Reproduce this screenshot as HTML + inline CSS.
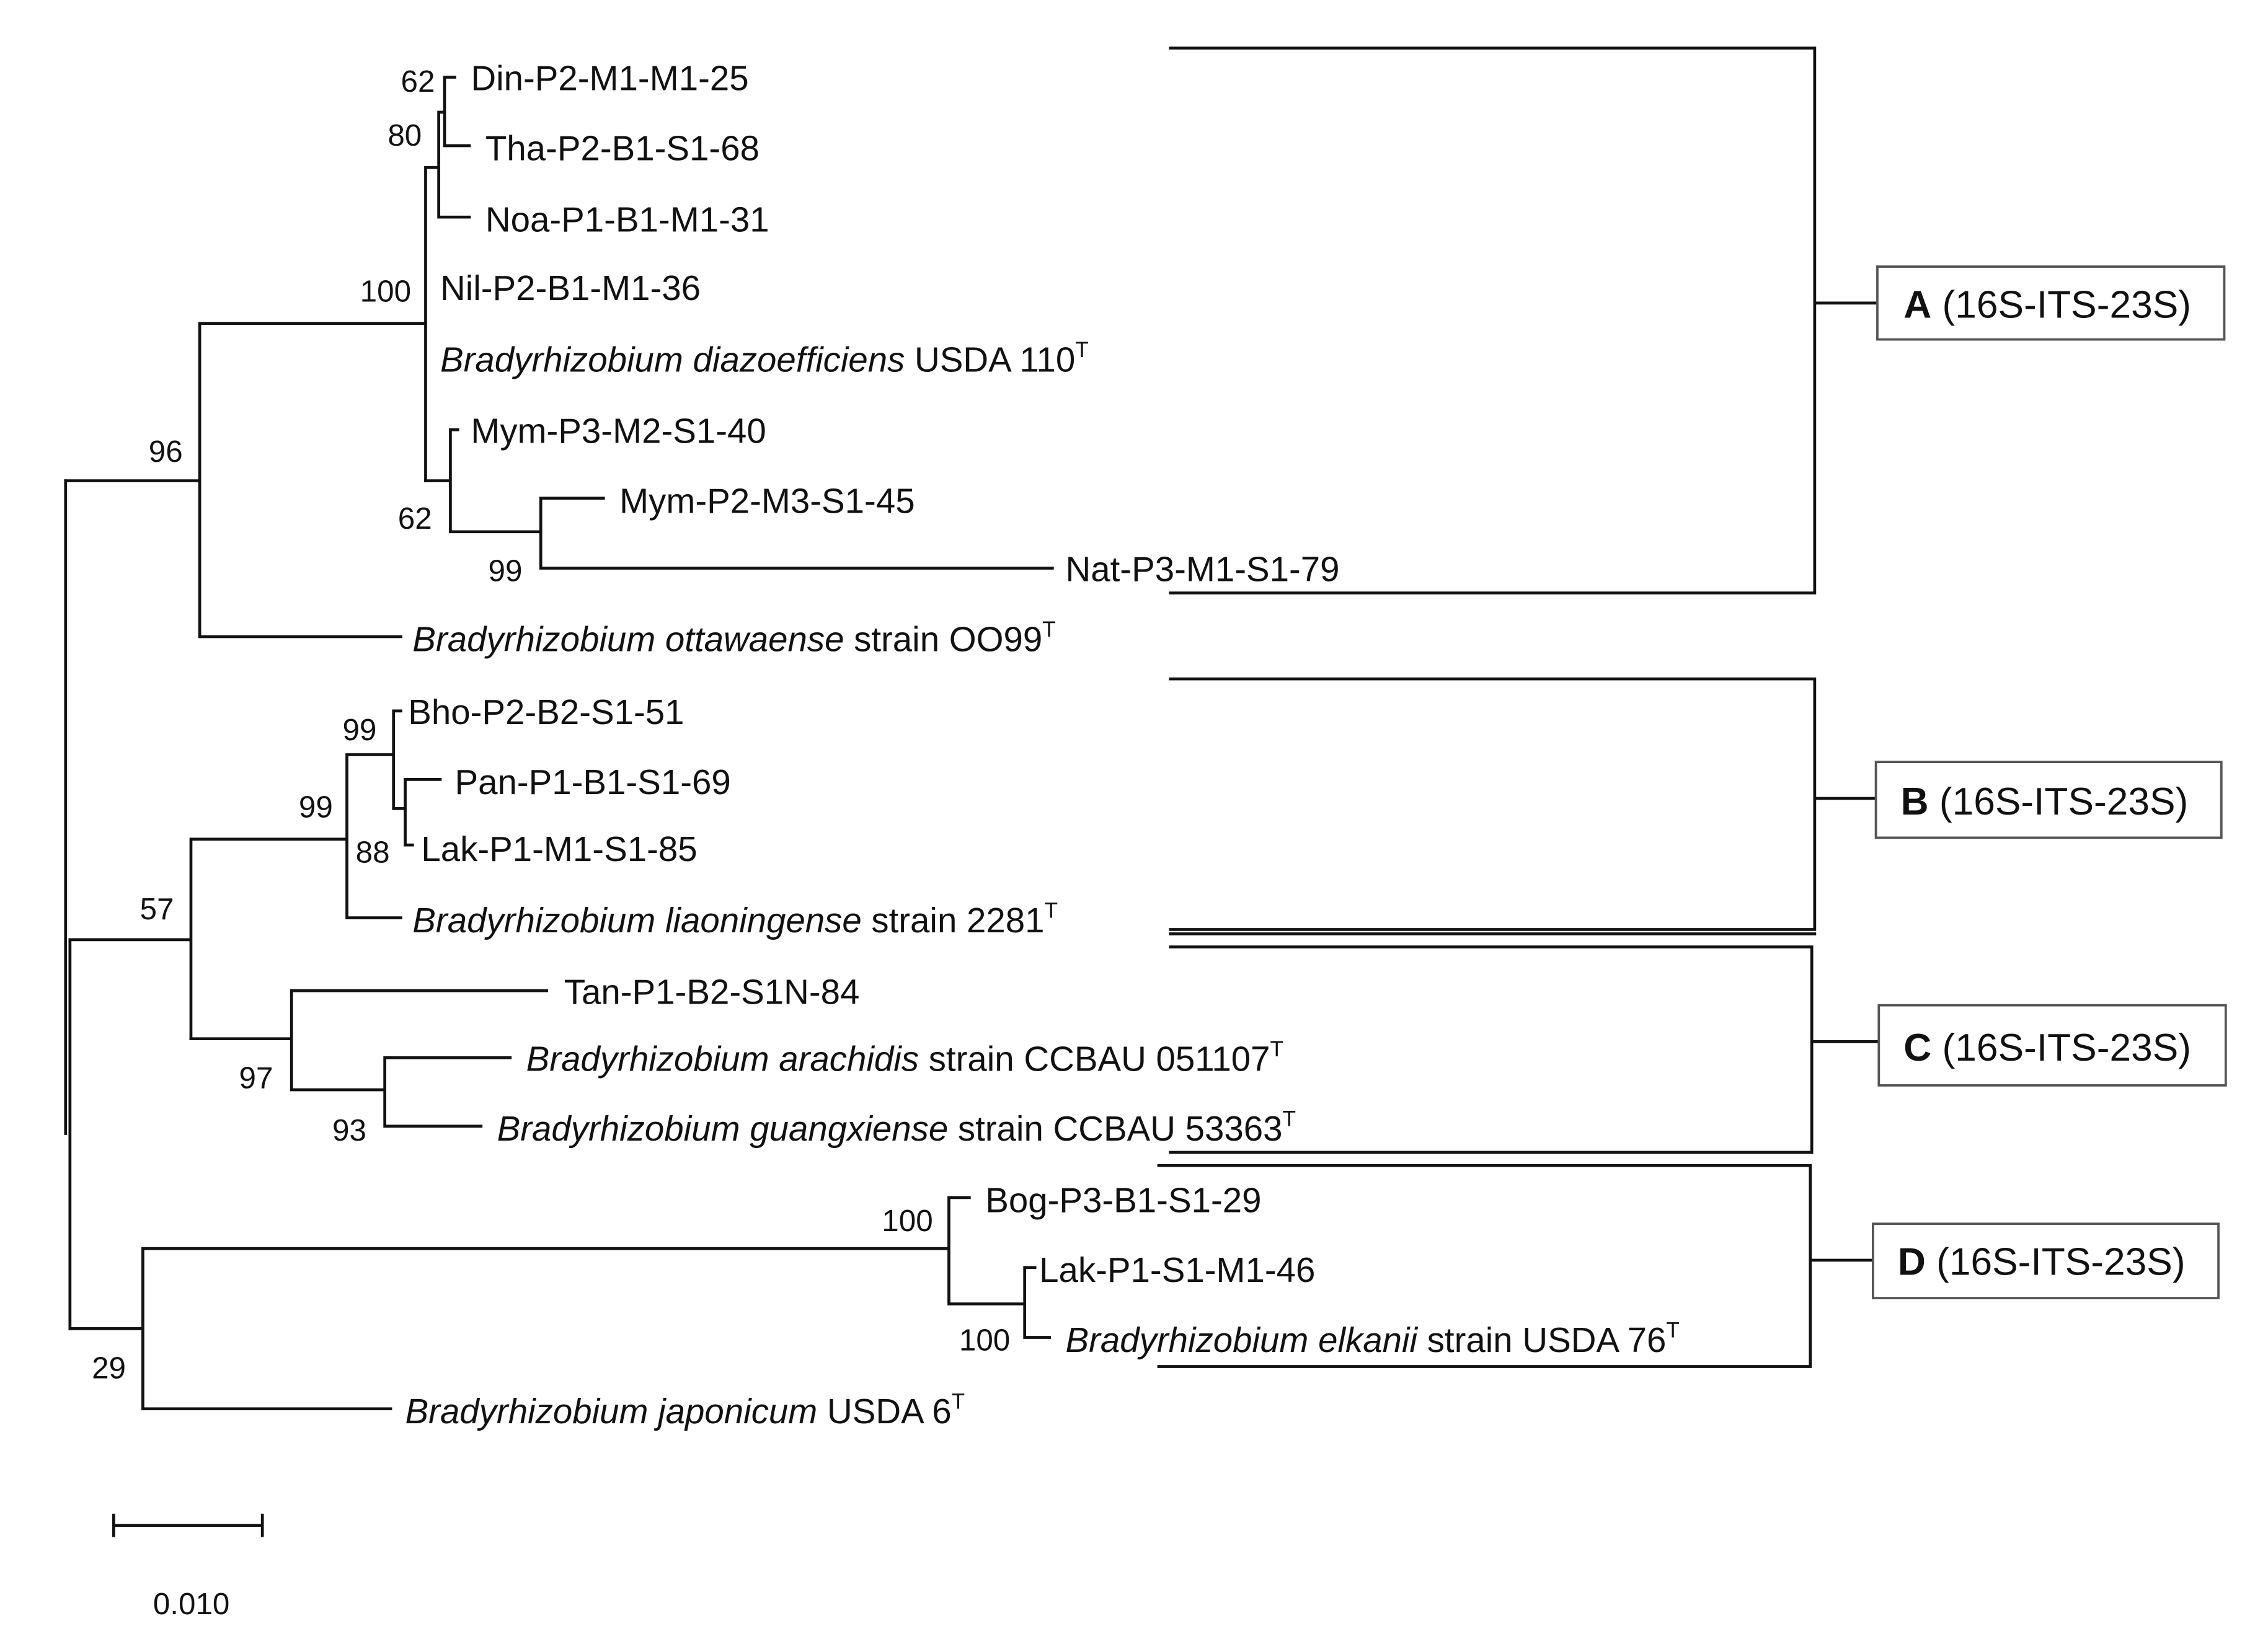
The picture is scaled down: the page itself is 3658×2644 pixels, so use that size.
<!DOCTYPE html>
<html><head><meta charset="utf-8"><style>
html,body{margin:0;padding:0;background:#fff;}
svg{display:block;}
text{font-family:"Liberation Sans",Arial,sans-serif;font-size:24px;fill:#111;}
.n{font-size:21px;}
.b{font-size:26.5px;}
</style></head><body>
<svg width="3658" height="2644" viewBox="0 0 1556 1125" preserveAspectRatio="none" xmlns="http://www.w3.org/2000/svg">
<g stroke="#111" stroke-width="2" fill="none" stroke-linecap="square">
<path d="M45 330V778M48 645V912"/>
<path d="M45 330H137M137 222V437M137 222H292M137 437H275"/>
<path d="M292 115V330M292 115H301M301 77V149M301 77H305M305 53V100M305 53H312M305 100H322M301 149H322"/>
<path d="M292 330H309M309 295V365M309 295H314M309 365H371M371 342V390M371 342H414M371 390H722"/>
<path d="M48 645H131M131 576V713M131 576H238M238 518V630M238 518H270M270 488V555M270 488H275M270 555H278M278 535V580M278 535H302M278 580H283M238 630H275"/>
<path d="M131 713H200M200 680V748M200 680H375M200 748H264M264 726V773M264 726H350M264 773H330"/>
<path d="M48 912H98M98 857V967M98 857H651M98 967H268M651 822V895M651 822H665M651 895H703M703 870V918M703 870H710M703 918H720"/>
<path d="M803 33H1245V407H803M1245 208H1288"/>
<path d="M803 466H1245V638H803M803 641H1245M1245 548H1287"/>
<path d="M803 650H1243V791H803M1243 715H1289"/>
<path d="M795 800H1242V938H795M1242 865H1285"/>
<path d="M78 1047H180M78 1040V1054M180 1040V1054"/>
</g>
<g stroke="#555" stroke-width="1.6" fill="#fff">
<rect x="1288" y="183" width="238" height="50"/>
<rect x="1287" y="523" width="237" height="52"/>
<rect x="1289" y="690" width="238" height="55"/>
<rect x="1285" y="840" width="237" height="51"/>
</g>
<g>
<text x="323" y="62">Din-P2-M1-M1-25</text>
<text x="333" y="110">Tha-P2-B1-S1-68</text>
<text x="333" y="159">Noa-P1-B1-M1-31</text>
<text x="302" y="206">Nil-P2-B1-M1-36</text>
<text x="302" y="255"><tspan font-style="italic">Bradyrhizobium diazoefficiens</tspan> USDA 110<tspan font-size="15" dy="-10">T</tspan></text>
<text x="323" y="304">Mym-P3-M2-S1-40</text>
<text x="425" y="352">Mym-P2-M3-S1-45</text>
<text x="731" y="399">Nat-P3-M1-S1-79</text>
<text x="283" y="447"><tspan font-style="italic">Bradyrhizobium ottawaense</tspan> strain OO99<tspan font-size="15" dy="-10">T</tspan></text>
<text x="280" y="497">Bho-P2-B2-S1-51</text>
<text x="312" y="545">Pan-P1-B1-S1-69</text>
<text x="289" y="591">Lak-P1-M1-S1-85</text>
<text x="283" y="640"><tspan font-style="italic">Bradyrhizobium liaoningense</tspan> strain 2281<tspan font-size="15" dy="-10">T</tspan></text>
<text x="387" y="689">Tan-P1-B2-S1N-84</text>
<text x="361" y="735"><tspan font-style="italic">Bradyrhizobium arachidis</tspan> strain CCBAU 051107<tspan font-size="15" dy="-10">T</tspan></text>
<text x="341" y="783"><tspan font-style="italic">Bradyrhizobium guangxiense</tspan> strain CCBAU 53363<tspan font-size="15" dy="-10">T</tspan></text>
<text x="676" y="832">Bog-P3-B1-S1-29</text>
<text x="713" y="880">Lak-P1-S1-M1-46</text>
<text x="731" y="928"><tspan font-style="italic">Bradyrhizobium elkanii</tspan> strain USDA 76<tspan font-size="15" dy="-10">T</tspan></text>
<text x="278" y="977"><tspan font-style="italic">Bradyrhizobium japonicum</tspan> USDA 6<tspan font-size="15" dy="-10">T</tspan></text>
</g>
<g>
<text class="n" x="275" y="63">62</text>
<text class="n" x="266" y="100">80</text>
<text class="n" x="247" y="207">100</text>
<text class="n" x="102" y="317">96</text>
<text class="n" x="273" y="363">62</text>
<text class="n" x="335" y="399">99</text>
<text class="n" x="235" y="508">99</text>
<text class="n" x="205" y="561">99</text>
<text class="n" x="244" y="592">88</text>
<text class="n" x="96" y="631">57</text>
<text class="n" x="164" y="747">97</text>
<text class="n" x="228" y="783">93</text>
<text class="n" x="605" y="845">100</text>
<text class="n" x="658" y="927">100</text>
<text class="n" x="63" y="946">29</text>
<text class="n" x="105" y="1108">0.010</text>
</g>
<text class="b" x="1306" y="218"><tspan font-weight="bold">A</tspan> (16S-ITS-23S)</text>
<text class="b" x="1304" y="559"><tspan font-weight="bold">B</tspan> (16S-ITS-23S)</text>
<text class="b" x="1306" y="728"><tspan font-weight="bold">C</tspan> (16S-ITS-23S)</text>
<text class="b" x="1302" y="875"><tspan font-weight="bold">D</tspan> (16S-ITS-23S)</text>
</svg>
</body></html>
